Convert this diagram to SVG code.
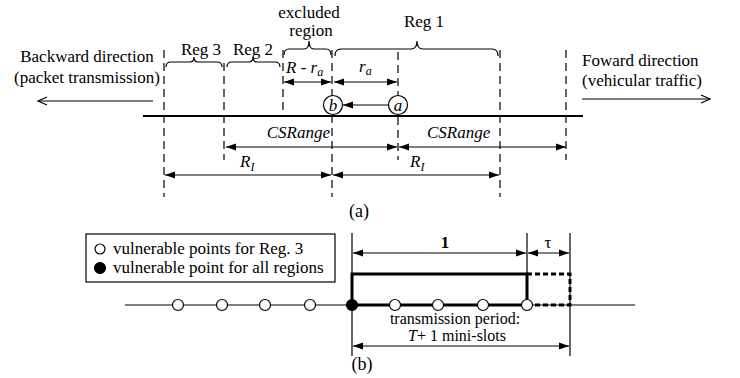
<svg xmlns="http://www.w3.org/2000/svg" width="740" height="378" viewBox="0 0 740 378" font-family="'Liberation Serif', 'DejaVu Serif', serif">
<defs>
<marker id="ah" markerUnits="userSpaceOnUse" markerWidth="10" markerHeight="8" refX="10" refY="4" orient="auto-start-reverse">
<path d="M0,0.5 L10,4 L0,7.5 z" fill="#000"/>
</marker>
<style>
text{font-family:'Liberation Serif','DejaVu Serif',serif;font-size:17px;fill:#000}
.it{font-style:italic}
.sub{font-size:12px;font-style:italic}
.mid{text-anchor:middle}
.ln{stroke:#000;stroke-width:1.2;fill:none}
.dash{stroke:#000;stroke-width:1.2;stroke-dasharray:8,5;fill:none}
.arr{stroke:#000;stroke-width:1.2;fill:none;marker-start:url(#ah);marker-end:url(#ah)}
.brace{stroke:#000;stroke-width:1.2;fill:none}
.bold{stroke:#000;stroke-width:3;fill:none}
.bdash{stroke:#000;stroke-width:3;fill:none;stroke-dasharray:5,3}
.oc{fill:#fff;stroke:#000;stroke-width:1.2}
.fc{fill:#000;stroke:#000;stroke-width:1.2}
</style>
</defs>
<rect width="740" height="378" fill="#fff"/>

<!-- Part (a) -->
<g id="axis-a">
<line x1="143" y1="116" x2="583" y2="116" stroke="#000" stroke-width="2"/>
</g>
<g id="dashed-guides">
<line class="dash" x1="164" y1="50" x2="164" y2="197"/>
<line class="dash" x1="224" y1="63" x2="224" y2="160"/>
<line class="dash" x1="283" y1="50" x2="283" y2="116"/>
<line class="dash" x1="332" y1="50" x2="332" y2="197"/>
<line class="dash" x1="398" y1="52" x2="398" y2="160"/>
<line class="dash" x1="500" y1="50" x2="500" y2="197"/>
<line class="dash" x1="566" y1="50" x2="566" y2="160"/>
</g>
<g id="braces">
<path class="brace" d="M166,67 Q166,62 171,62 L190,62 Q194,62 194,57 Q194,62 198,62 L217,62 Q222,62 222,67"/>
<path class="brace" d="M227,67 Q227,62 232,62 L249,62 Q253,62 253,57 Q253,62 257,62 L275,62 Q280,62 280,67"/>
<path class="brace" d="M284,55 Q284,49 289,49 L304,49 Q309,49 309,41 Q309,49 314,49 L326,49 Q331,49 331,55"/>
<path class="brace" d="M335,56 Q335,49 341,49 L411,49 Q417,49 417,41 Q417,49 423,49 L492,49 Q498,49 498,56"/>
</g>
<g id="labels-top">
<text x="309" y="18" class="mid">excluded</text>
<text x="311" y="36" class="mid">region</text>
<text x="424" y="27" class="mid">Reg 1</text>
<text x="201" y="55" class="mid">Reg 3</text>
<text x="253" y="55" class="mid">Reg 2</text>
<text x="87" y="62" class="mid">Backward direction</text>
<text x="87" y="83" class="mid">(packet transmission)</text>
<text x="582" y="66">Foward direction</text>
<text x="582" y="86">(vehicular traffic)</text>
<text x="286" y="73"><tspan class="it">R</tspan> - <tspan class="it">r</tspan><tspan class="sub" dy="3">a</tspan></text>
<text x="359" y="72"><tspan class="it">r</tspan><tspan class="sub" dy="3">a</tspan></text>
<text x="330" y="138" class="it" text-anchor="end">CSRange</text>
<text x="427" y="138" class="it">CSRange</text>
<text x="240" y="167"><tspan class="it">R</tspan><tspan class="sub" dy="4">I</tspan></text>
<text x="410" y="167"><tspan class="it">R</tspan><tspan class="sub" dy="4">I</tspan></text>
<text x="359" y="217" class="mid" style="font-size:18px">(a)</text>
</g>
<g id="node-b">
<circle class="oc" cx="333" cy="105" r="9.5"/>
<text x="333" y="111" class="it mid">b</text>
</g>
<g id="node-a">
<circle class="oc" cx="398" cy="105" r="9.5"/>
<text x="398" y="111" class="it mid">a</text>
</g>
<g id="connectors-a">
<line class="ln" x1="38" y1="101" x2="153" y2="101"/>
<path class="ln" d="M47,97 L38,101 L47,105"/>
<line class="ln" x1="582" y1="99" x2="710" y2="99"/>
<path class="ln" d="M701,95 L710,99 L701,103"/>
<line class="ln" x1="388.5" y1="105" x2="343" y2="105" marker-end="url(#ah)"/>
<line class="arr" x1="284" y1="82" x2="331" y2="82"/>
<line class="arr" x1="334" y1="82" x2="397" y2="82"/>
<line class="arr" x1="226" y1="147" x2="397" y2="147"/>
<line class="arr" x1="399" y1="147" x2="566" y2="147"/>
<line class="arr" x1="165" y1="175" x2="331" y2="175"/>
<line class="arr" x1="333" y1="175" x2="499" y2="175"/>
</g>

<!-- Part (b) -->
<g id="legend">
<rect x="86" y="234" width="249" height="48" fill="#fff" stroke="#000" stroke-width="1.2"/>
<circle class="oc" cx="100" cy="249" r="5"/>
<text x="113" y="254">vulnerable points for Reg. 3</text>
<circle class="fc" cx="100" cy="268" r="5.5"/>
<text x="113" y="273">vulnerable point for all regions</text>
</g>
<g id="axis-b">
<line x1="125" y1="305" x2="635" y2="305" stroke="#000" stroke-width="1.2"/>
<line class="ln" x1="352" y1="233" x2="352" y2="356"/>
<line class="ln" x1="527" y1="233" x2="527" y2="274"/>
<line class="ln" x1="570" y1="233" x2="570" y2="356"/>
</g>
<g id="transmission-box">
<path class="bold" d="M352,305 L352,274 L527,274 L527,305 M352,305 L527,305"/>
<path class="bdash" d="M527,274 L570,274 L570,305 L527,305"/>
</g>
<g id="points">
<circle class="oc" cx="178" cy="305" r="5.5"/>
<circle class="oc" cx="222" cy="305" r="5.5"/>
<circle class="oc" cx="265" cy="305" r="5.5"/>
<circle class="oc" cx="310" cy="305" r="5.5"/>
<circle class="fc" cx="352" cy="305" r="5.5"/>
<circle class="oc" cx="395" cy="305" r="5.5"/>
<circle class="oc" cx="438" cy="305" r="5.5"/>
<circle class="oc" cx="483" cy="305" r="5.5"/>
<circle class="oc" cx="527" cy="305" r="5.5"/>
</g>
<g id="connectors-b">
<line class="arr" x1="353" y1="253" x2="526" y2="253"/>
<line class="arr" x1="528" y1="253" x2="569" y2="253"/>
<line class="arr" x1="353" y1="346" x2="569" y2="346"/>
</g>
<g id="labels-b">
<text x="445" y="248" class="mid" font-weight="bold">1</text>
<text x="548" y="248" class="mid">τ</text>
<text x="455" y="324" class="mid" style="font-size:16px">transmission period:</text>
<text x="457" y="341" class="mid" style="font-size:16px"><tspan class="it">T</tspan>+ 1 mini-slots</text>
<text x="362" y="370" class="mid" style="font-size:18px">(b)</text>
</g>
</svg>
